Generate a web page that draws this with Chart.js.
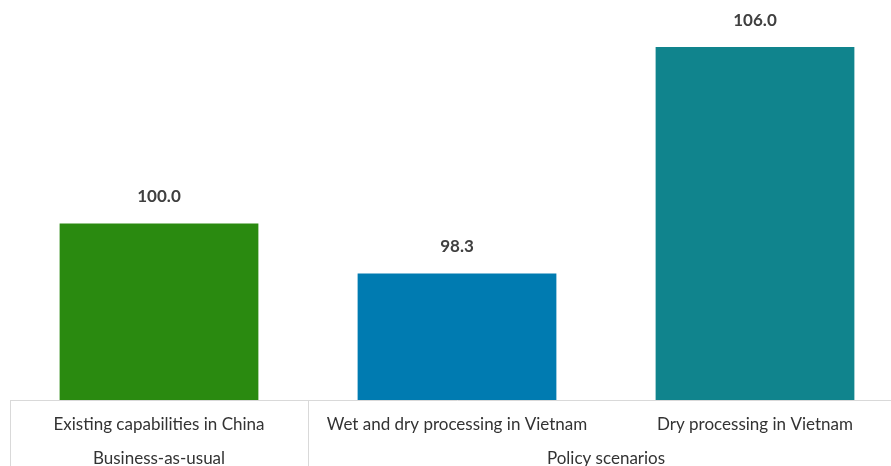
<!DOCTYPE html>
<html>
<head>
<meta charset="utf-8">
<script src="https://cdn.jsdelivr.net/npm/chart.js@4.4.1/dist/chart.umd.min.js"></script>
<style>
  html, body { margin: 0; padding: 0; overflow: hidden; background: #fff; }
  #wrap { position: relative; width: 904px; height: 466px; }
</style>
</head>
<body>
<div id="wrap"><canvas id="barChart"></canvas></div>
<script>
let categories = ['Existing capabilities in China', 'Wet and dry processing in Vietnam', 'Dry processing in Vietnam'];
let values = [100.0, 98.3, 106.0];
let barColors = ['#2a8a10', '#007bb1', '#10848d'];

// scenario groups: label + first/last category index
let groupLabels = ['Business-as-usual', 'Policy scenarios'];
let groupFirst = [0, 1];
let groupLast = [0, 2];

let fontFamily = 'Lato, "Open Sans", sans-serif';
let lineColor = '#d9d9d9';

// value labels above bars
let valueLabels = {
    id: 'valueLabels',
    afterDatasetsDraw(chart) {
        let ctx = chart.ctx;
        let meta = chart.getDatasetMeta(0);
        ctx.save();
        ctx.font = 'bold 17px ' + fontFamily;
        ctx.fillStyle = '#404040';
        ctx.textAlign = 'center';
        ctx.textBaseline = 'middle';
        meta.data.forEach((bar, i) => {
            ctx.fillText(values[i].toFixed(1), bar.x, bar.y - 27);
        });
        ctx.restore();
    }
};

// second row of the x axis: group names and separators
let groupAxis = {
    id: 'groupAxis',
    afterDraw(chart) {
        let ctx = chart.ctx;
        let x = chart.scales.x;
        let area = chart.chartArea;
        let half = (x.getPixelForValue(1) - x.getPixelForValue(0)) / 2;
        let top = area.bottom;
        let bottom = chart.height;
        ctx.save();
        ctx.strokeStyle = lineColor;
        ctx.lineWidth = 1;
        ctx.font = '17px ' + fontFamily;
        ctx.fillStyle = '#333';
        ctx.textAlign = 'center';
        ctx.textBaseline = 'middle';
        groupLabels.forEach((label, g) => {
            let left = x.getPixelForValue(groupFirst[g]) - half;
            let right = x.getPixelForValue(groupLast[g]) + half;
            [left, right].forEach(px => {
                let p = Math.round(px) + 0.5;
                ctx.beginPath();
                ctx.moveTo(p, top);
                ctx.lineTo(p, bottom);
                ctx.stroke();
            });
            ctx.fillText(label, (left + right) / 2, top + 59);
        });
        ctx.restore();
    }
};

let ctx = document.getElementById('barChart').getContext('2d');

let barChart = new Chart(ctx, {
    type: 'bar',
    data: {
        labels: categories,
        datasets: [{
            data: values,
            backgroundColor: barColors,
            barPercentage: 1,
            categoryPercentage: 0.667
        }]
    },
    options: {
        responsive: true,
        maintainAspectRatio: false,
        animation: false,
        layout: { padding: { left: 10, right: 0, top: 0, bottom: 0 } },
        plugins: {
            legend: { display: false },
            tooltip: { enabled: false }
        },
        scales: {
            y: {
                display: false,
                min: 94,
                max: 107.6
            },
            x: {
                grid: { display: false },
                border: { display: true, color: lineColor, width: 1 },
                ticks: {
                    color: '#333',
                    font: { family: fontFamily, size: 17 },
                    padding: 6,
                    maxRotation: 0,
                    autoSkip: false
                },
                afterFit(scale) {
                    scale.height = 66;
                }
            }
        }
    },
    plugins: [valueLabels, groupAxis]
});
</script>
</body>
</html>
